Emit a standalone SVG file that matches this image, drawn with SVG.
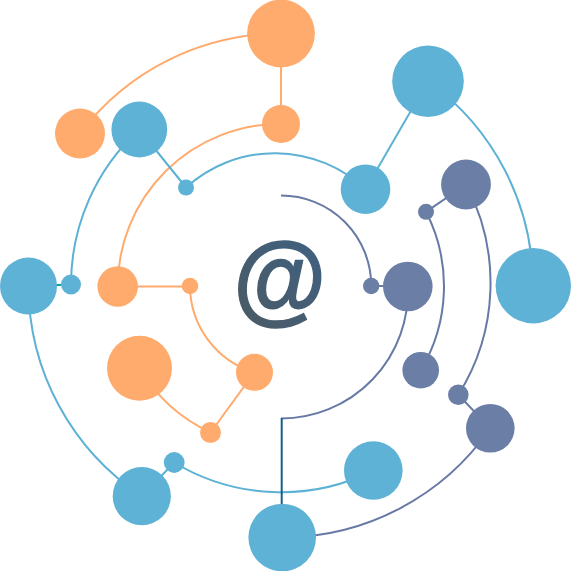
<svg xmlns="http://www.w3.org/2000/svg" width="571" height="571" viewBox="0 0 571 571">
<style>
.o{fill:#ffab6e}.b{fill:#5eb2d5}.s{fill:#6b7ea6}
#connectors path{fill:none;stroke-width:2}
.lo{stroke:#ffab6e}.lb{stroke:#5cb1d5}.ls{stroke:#6779a5}
</style>
<defs><linearGradient id="g" x1="0" y1="1" x2="1" y2="0"><stop offset="0" stop-color="#4b5a63"/><stop offset="1" stop-color="#3e6184"/></linearGradient></defs>
<rect width="571" height="571" fill="#fff"/>
<g id="connectors">
<path class="lo" d="M80 133.500A252 252 0 0 1 281 33.500V124"/>
<path class="lo" d="M117.700 286.500A162.500 162.500 0 0 1 281 124"/>
<path class="lo" d="M117.700 286.500H190"/>
<path class="lo" d="M190 286A90.500 90.500 0 0 0 254.500 372.300L210.500 432.500"/>
<path class="lo" d="M139.500 368.300A163.500 163.500 0 0 0 210.500 432.500"/>
<path class="lb" d="M139.300 129.500L186 187.500"/>
<path class="lb" d="M186 187.500A132 132 0 0 1 365.500 189.200"/>
<path class="lb" d="M71 284.500A210.500 210.500 0 0 1 139.300 129.500"/>
<path class="lb" d="M428 81.200A252 252 0 0 1 533 285.700"/>
<path class="lb" d="M428 81.200L365.500 189.200"/>
<path class="lb" d="M28.500 286A252.500 252.500 0 0 0 141.800 496.200"/>
<path class="lb" d="M141.800 496.200L174.200 462.500"/>
<path class="lb" d="M174.200 462.500A206.500 206.500 0 0 0 373.300 470.500"/>
<path stroke="#0f9aa5" d="M28.500 286L71 284.500"/>
<path class="ls" d="M282 537.500A253 253 0 0 0 490.300 428.300L458.300 394.800"/>
<path class="ls" d="M466 184.500A210 210 0 0 1 458.300 394.800"/>
<path class="ls" d="M466 184.500L426 211.800"/>
<path class="ls" d="M426 211.800A163 163 0 0 1 420.700 370.200"/>
<path class="ls" d="M281 195.500A90.200 90.200 0 0 1 371.200 286H407.800"/>
<path class="ls" d="M407.800 286.500A127 127 0 0 1 281 418.500"/>
<path stroke="#10618a" d="M281.700 418V505"/>
</g>
<g id="n1"><circle class="o" cx="281" cy="33.500" r="33.900"/></g>
<g id="n2"><circle class="o" cx="281" cy="124" r="19"/></g>
<g id="n3"><circle class="o" cx="80" cy="133.500" r="25"/></g>
<g id="n4"><circle class="b" cx="139.300" cy="129.500" r="27.900"/></g>
<g id="n5"><circle class="b" cx="186" cy="187.500" r="8"/></g>
<g id="n6"><circle class="b" cx="28.500" cy="286" r="28.500"/></g>
<g id="n7"><circle class="b" cx="71" cy="284.500" r="10"/></g>
<g id="n8"><circle class="o" cx="117.700" cy="286.500" r="20.300"/></g>
<g id="n9"><circle class="o" cx="190" cy="286" r="8.300"/></g>
<g id="n10"><circle class="b" cx="428" cy="81.200" r="35.800"/></g>
<g id="n11"><circle class="b" cx="365.500" cy="189.200" r="24.800"/></g>
<g id="n12"><circle class="s" cx="466" cy="184.500" r="24.900"/></g>
<g id="n13"><circle class="s" cx="426" cy="211.800" r="8"/></g>
<g id="n14"><circle class="b" cx="533.300" cy="285.700" r="37.700"/></g>
<g id="n15"><circle class="s" cx="407.800" cy="286.500" r="24.800"/></g>
<g id="n16"><circle class="s" cx="371.200" cy="286" r="8.200"/></g>
<g id="n17"><circle class="s" cx="420.700" cy="370.200" r="18.300"/></g>
<g id="n18"><circle class="s" cx="458.300" cy="394.800" r="10.300"/></g>
<g id="n19"><circle class="s" cx="490.300" cy="428.300" r="24.300"/></g>
<g id="n20"><circle class="b" cx="373.300" cy="470.500" r="29.300"/></g>
<g id="n21"><circle class="b" cx="282.200" cy="537.500" r="33.800"/></g>
<g id="n22"><circle class="o" cx="139.500" cy="368.300" r="32.500"/></g>
<g id="n23"><circle class="o" cx="254.500" cy="372.300" r="18.500"/></g>
<g id="n24"><circle class="o" cx="210.500" cy="432.500" r="10.500"/></g>
<g id="n25"><circle class="b" cx="174.200" cy="462.500" r="10.400"/></g>
<g id="n26"><circle class="b" cx="141.800" cy="496.200" r="29.100"/></g>
<g id="center"><text transform="translate(279.700 311.900) scale(1.06 1.113)" text-anchor="middle" font-family="'Liberation Sans',Arial,sans-serif" font-weight="700" font-size="90" fill="url(#g)" stroke="url(#g)" stroke-width="1.2">@</text></g>
</svg>
